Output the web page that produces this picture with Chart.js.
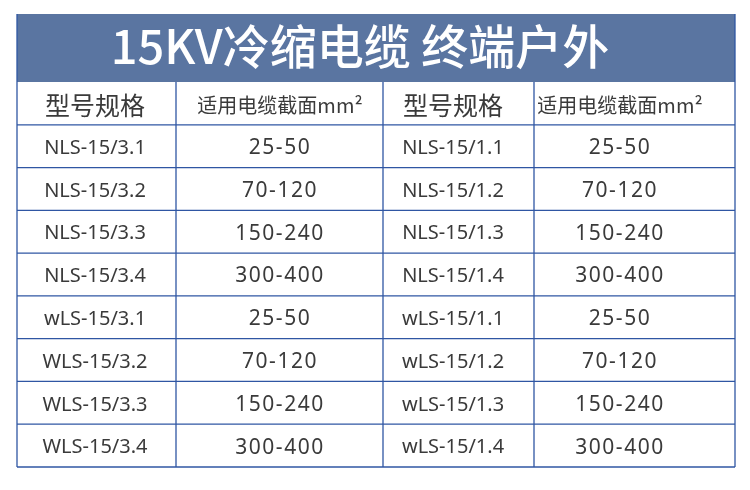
<!DOCTYPE html><html><head><meta charset="utf-8">
<script src="https://cdn.jsdelivr.net/npm/chart.js@4"></script>
<style>html,body{margin:0;background:#fff}#w{width:750px;height:490px}</style></head><body>
<div id="w"><canvas id="c"></canvas></div>
<script>
const title = "15KV冷缩电缆 终端户外";
const headers = ["型号规格","适用电缆截面mm²","型号规格","适用电缆截面mm²"];
const modelsA = ["NLS-15/3.1","NLS-15/3.2","NLS-15/3.3","NLS-15/3.4","wLS-15/3.1","WLS-15/3.2","WLS-15/3.3","WLS-15/3.4"];
const sizesA = ["25-50","70-120","150-240","300-400","25-50","70-120","150-240","300-400"];
const modelsB = ["NLS-15/1.1","NLS-15/1.2","NLS-15/1.3","NLS-15/1.4","wLS-15/1.1","wLS-15/1.2","wLS-15/1.3","wLS-15/1.4"];
const sizesB = sizesA.slice();
const rowLabels = ["h"].concat(modelsA.map((_,i)=>"r"+i));
const colEdges = [0,159,366,517,718];
const colCenters = [78,263,436,603];
const blue="#5a75a1", line="#2f56a3";
const plug={id:'tbl',afterDraw(ch){
 const c=ch.ctx,x=ch.scales.x,y=ch.scales.y,a=ch.chartArea;
 c.save();
 c.fillStyle=blue;c.fillRect(a.left,14,a.right-a.left,a.top-14);
 c.fillStyle="#fff";c.font="500 47px 'Noto Sans CJK SC'";c.textAlign="center";c.textBaseline="middle";
 c.fillText(title,360,46);
 c.strokeStyle=line;c.lineWidth=1.3;
 const step=(a.bottom-a.top)/rowLabels.length;
 for(let i=1;i<rowLabels.length;i++){const py=y.getPixelForValue(i)-step/2;c.beginPath();c.moveTo(a.left,py);c.lineTo(a.right,py);c.stroke();}
 colEdges.forEach(e=>{const px=x.getPixelForValue(e);c.beginPath();c.moveTo(px,a.top);c.lineTo(px,a.bottom);c.stroke();});
 c.beginPath();c.moveTo(a.left,a.bottom);c.lineTo(a.right,a.bottom);c.stroke();
 c.beginPath();c.moveTo(a.left,14);c.lineTo(a.left,a.top);c.moveTo(a.right,14);c.lineTo(a.right,a.top);c.stroke();
 c.fillStyle="#3a3a3a";
 headers.forEach((h,j)=>{c.font=(j%2==0?"25px":"20px")+" 'Noto Sans CJK SC'";c.fillText(h,x.getPixelForValue(colCenters[j]),y.getPixelForValue(0)+2);});
 const cols=[modelsA,sizesA,modelsB,sizesB];
 cols.forEach((arr,j)=>arr.forEach((t,i)=>{c.font=(j%2?"21px":"20px")+" 'Noto Sans'";c.letterSpacing=j%2?"1.5px":"0px";c.fillText(t,x.getPixelForValue(colCenters[j]),y.getPixelForValue(i+1)+2);}));
 c.restore();}};
new Chart(document.getElementById('c'),{type:'scatter',data:{datasets:[]},
 options:{responsive:true,maintainAspectRatio:false,animation:false,
 layout:{padding:{left:17,right:15,top:82,bottom:23}},
 plugins:{legend:{display:false},tooltip:{enabled:false}},
 scales:{x:{type:'linear',min:0,max:718,display:false},
 y:{type:'category',labels:rowLabels,offset:true,display:false}}},plugins:[plug]});
</script></body></html>
